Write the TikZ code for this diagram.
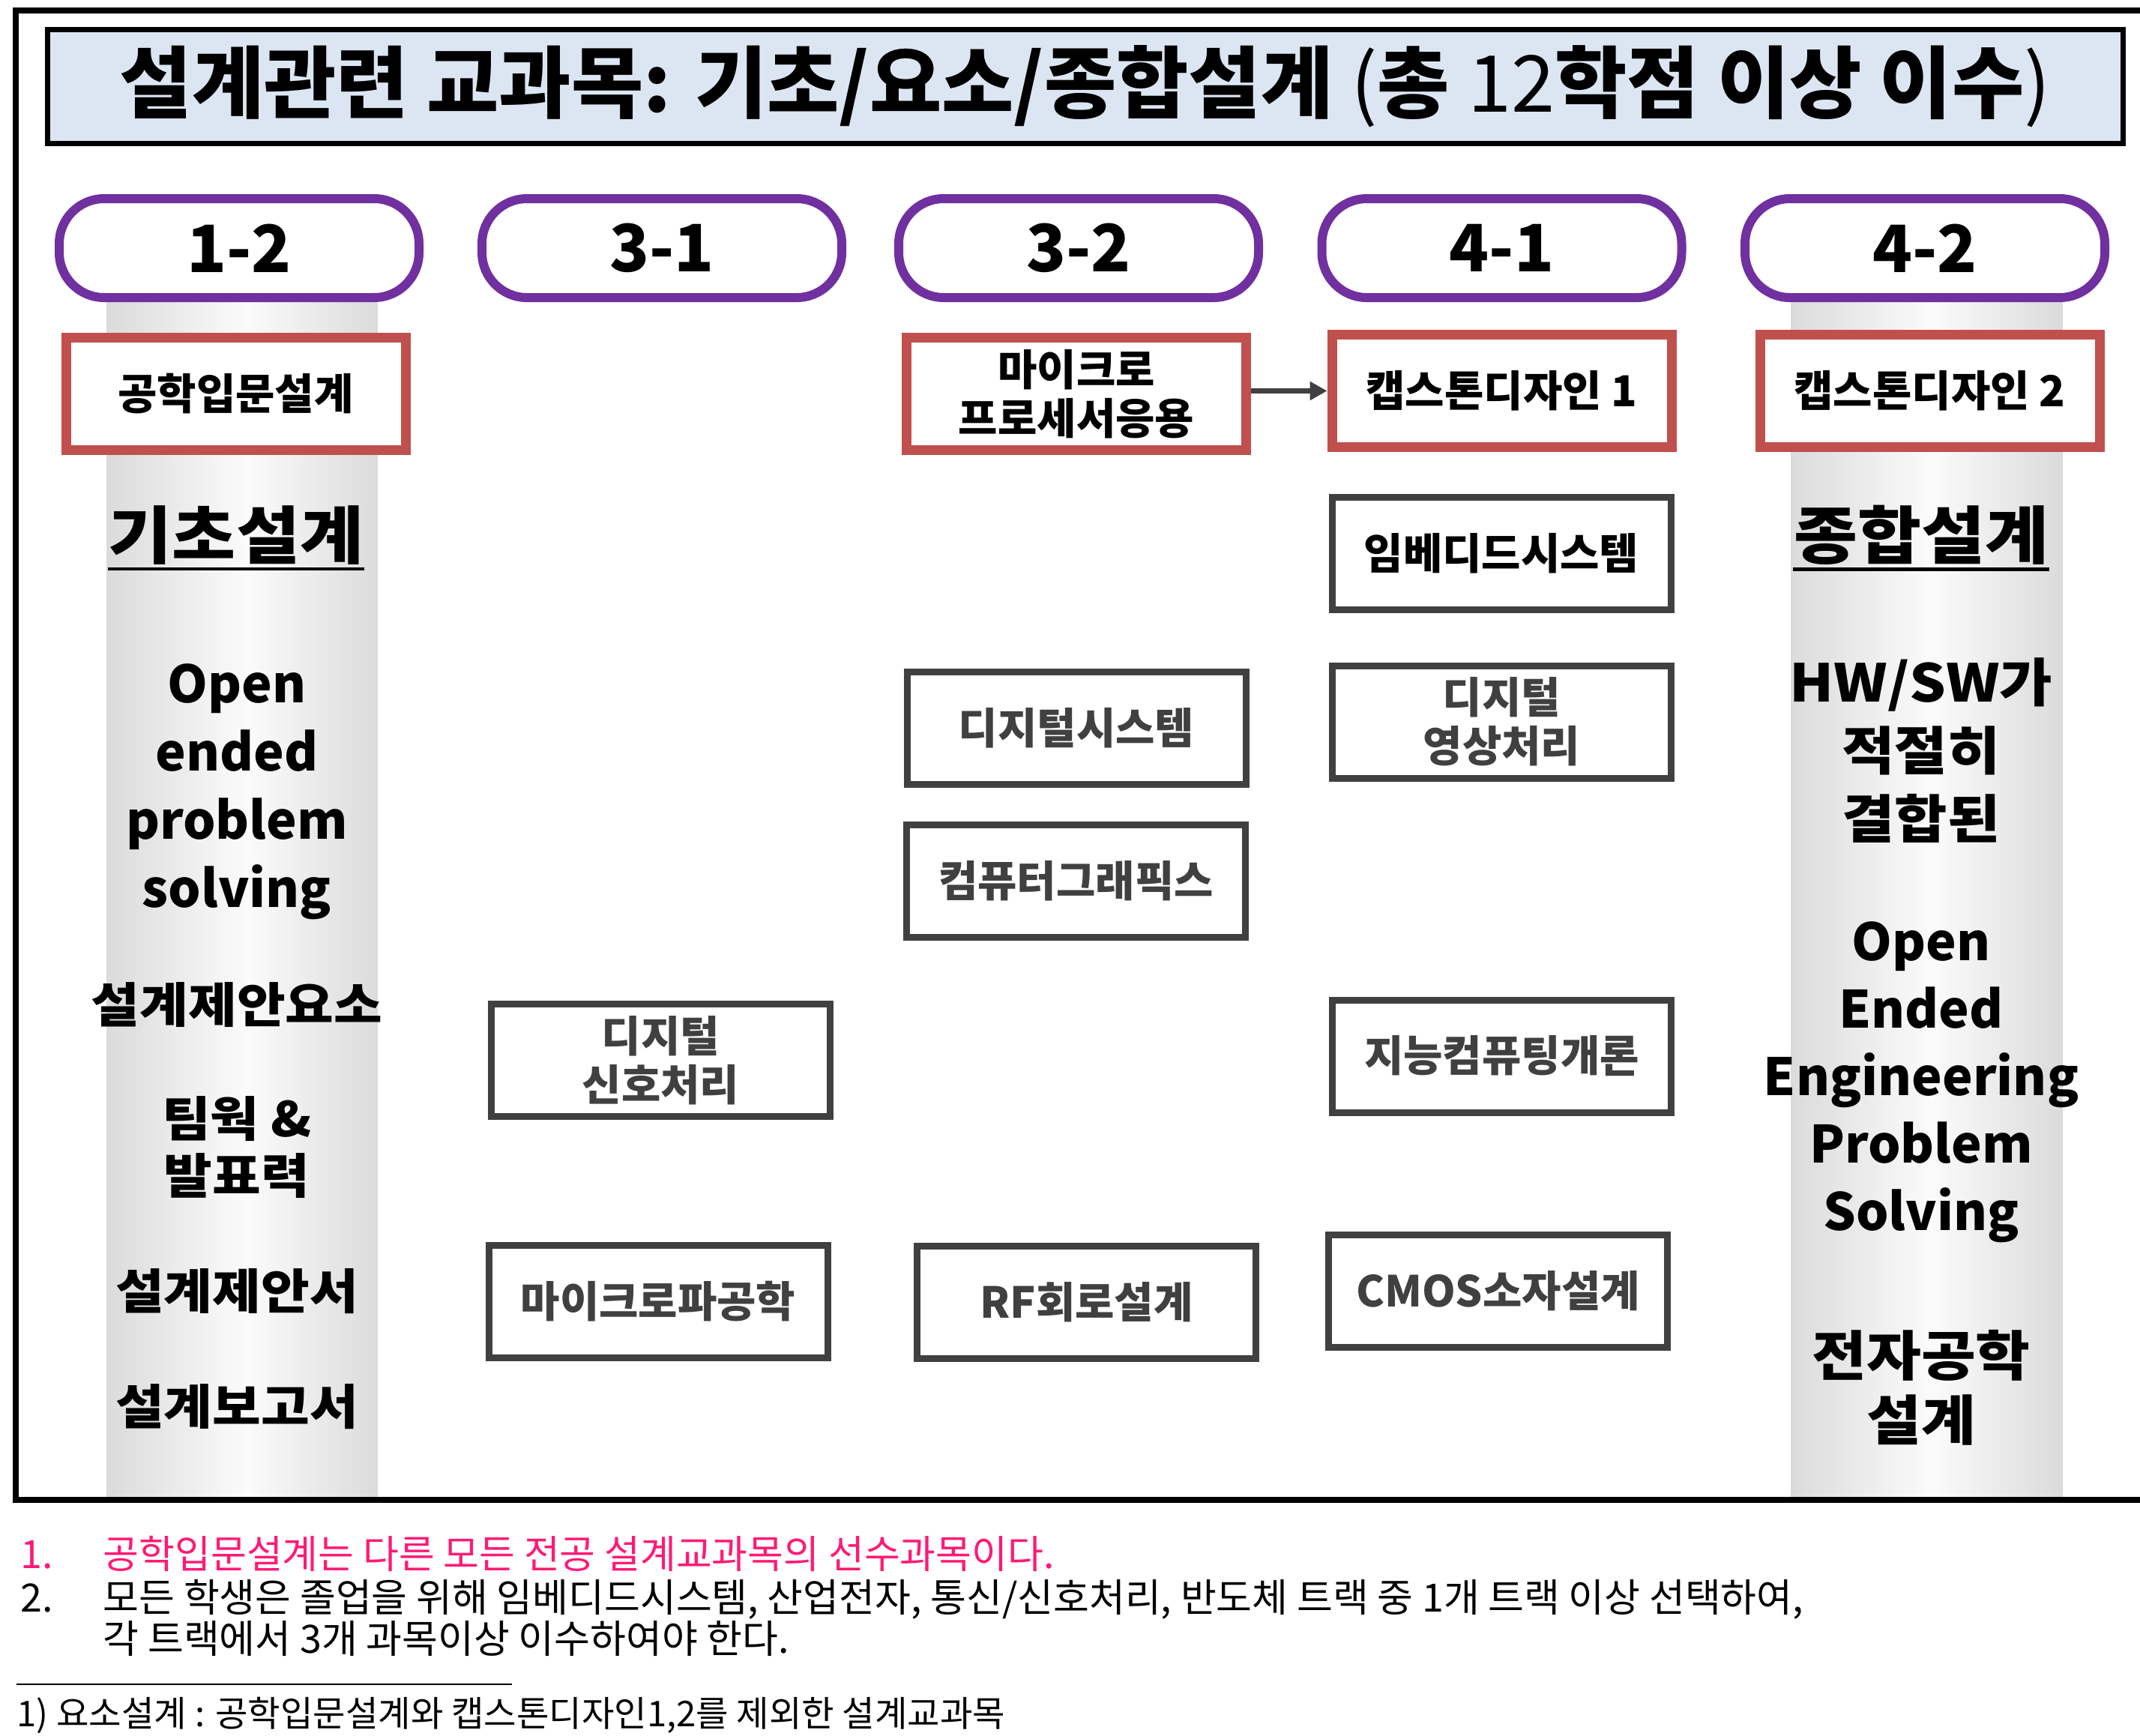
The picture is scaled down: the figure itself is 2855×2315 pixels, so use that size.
\documentclass[tikz,border=0pt]{standalone}
\usepackage{fontspec}
\setmainfont{Noto Sans CJK KR}
\newfontfamily\widekr[FakeStretch=1.1]{Noto Sans CJK KR}
\usetikzlibrary{arrows.meta}
\definecolor{redb}{HTML}{C0504D}
\definecolor{grayb}{HTML}{404040}
\definecolor{purp}{HTML}{7030A0}
\definecolor{titlebg}{HTML}{DCE6F2}
\definecolor{pinkt}{HTML}{FF1A75}
\definecolor{colg}{HTML}{DBDBDB}
\definecolor{colw}{HTML}{FBFBFB}
\pgfdeclarehorizontalshading{colshade}{100bp}{color(0bp)=(colg); color(25bp)=(colg); color(51bp)=(colw); color(75bp)=(colg); color(100bp)=(colg)}
\begin{document}
\begin{tikzpicture}[x=0.1mm,y=-0.1mm,
  pill/.style={draw=purp, line width=1.2mm, rounded corners=6mm, fill=white,
    minimum width=48mm, minimum height=13.2mm, inner sep=0pt,
    font=\fontsize{24.8}{28}\selectfont\bfseries},
  redbox/.style={draw=redb, line width=1.3mm, fill=white, align=center,
    minimum width=45.3mm, minimum height=15mm, inner sep=0pt,
    font=\fontsize{16.2}{18.6}\selectfont\bfseries},
  graybox/.style={draw=grayb, line width=0.9mm, fill=white, align=center, text=grayb,
    minimum width=45.2mm, minimum height=15mm, inner sep=0pt,
    font=\fontsize{16.2}{18.6}\selectfont\bfseries},
  colhead/.style={inner sep=0pt, font=\widekr\fontsize{23.9}{28}\selectfont\bfseries},
  coltext/.style={inner sep=0pt, align=center, font=\fontsize{19.5}{25.9}\selectfont\bfseries},
  colkor/.style={inner sep=0pt, align=center, font=\widekr\fontsize{18.2}{21.6}\selectfont\bfseries},
  foot/.style={inner sep=0pt, anchor=base west, font=\fontsize{14.8}{17}\selectfont},
  arr/.style={draw=grayb, line width=0.7mm, -{Triangle[length=2.3mm,width=2.4mm]}}
]
\useasboundingbox (0,0) rectangle (2855,2315);

% gray columns
\shade[shading=colshade] (142,380) rectangle (504,1998);
\shade[shading=colshade] (2389,380) rectangle (2752,1998);

% outer frame
\draw[line width=0.75mm, line join=miter] (2856,14) -- (21,14) -- (21,2001) -- (2856,2001);

% title
\node[draw, line width=0.7mm, fill=titlebg, minimum width=276.9mm, minimum height=15.2mm, inner sep=0pt,
  font=\fontsize{29.8}{32}\selectfont] (title) at (1448,115.5)
  {\bfseries 설계관련 교과목: 기초/요소/종합설계 \mdseries(\bfseries 총 \mdseries 12\bfseries 학점 이상 이수\mdseries)};

% semester pills
\node[pill] (s12) at (319,331) {1-2};
\node[pill] (s31) at (883,331) {3-1};
\node[pill] (s32) at (1439,331) {3-2};
\node[pill] (s41) at (2003.5,331) {4-1};
\node[pill] (s42) at (2568,331) {4-2};

% red boxes
\node[redbox] (intro) at (314.5,525.5) {공학입문설계};
\node[redbox] (micro) at (1436,525.5) {마이크로\\프로세서응용};
\node[redbox] (cap1) at (2003.5,521.5) {캡스톤디자인 1};
\node[redbox] (cap2) at (2574.5,521.5) {캡스톤디자인 2};

% gray boxes
\node[graybox, text=black] (embed) at (2003,738) {임베디드시스템};
\node[graybox] (dsys) at (1436,971) {디지털시스템};
\node[graybox] (dimg) at (2003.5,963) {디지털\\영상처리};
\node[graybox] (cg) at (1435.5,1175.5) {컴퓨터그래픽스};
\node[graybox] (dsp) at (881.5,1414.5) {디지털\\신호처리};
\node[graybox] (ai) at (2003.5,1409) {지능컴퓨팅개론};
\node[graybox] (mw) at (878,1736.5) {마이크로파공학};
\node[graybox] (rf) at (1449.5,1737) {RF회로설계};
\node[graybox] (cmos) at (1998.5,1722.5) {CMOS소자설계};

% arrow
\draw[arr] (micro.east |- cap1.west) -- (cap1.west);

% left column texts
\node[colhead] (kicho) at (315,714) {기초설계};
\draw[line width=0.45mm] ([yshift=-0.5mm]kicho.south west) -- ([yshift=-0.5mm]kicho.south east);
\node[coltext] (oeps) at (316,1056) {Open\\ended\\problem\\solving};
\node[colkor] (dce) at (316,1340) {설계제안요소};
\node[colkor] (team) at (316,1531) {팀웍 \&\\발표력};
\node[colkor] (prop) at (316,1723) {설계제안서};
\node[colkor] (rep) at (316,1877) {설계보고서};

% right column texts
\node[colhead] (jong) at (2563,714) {종합설계};
\draw[line width=0.45mm] ([yshift=-0.5mm]jong.south west) -- ([yshift=-0.5mm]jong.south east);
\node[coltext, font=\widekr\fontsize{19.8}{25.9}\selectfont\bfseries] (hwsw) at (2563,1001) {HW/SW가\\적절히\\결합된};
\node[coltext, font=\fontsize{19.5}{25.6}\selectfont\bfseries] (oeeps) at (2563,1444) {Open\\Ended\\Engineering\\Problem\\Solving};
\node[coltext, font=\widekr\fontsize{20.5}{24.5}\selectfont\bfseries] (eed) at (2563,1851) {전자공학\\설계};

% footer
\node[foot, text=pinkt] (n1) at (27,2092) {1.};
\node[foot, text=pinkt] (t1) at (137,2092) {공학입문설계는 다른 모든 전공 설계교과목의 선수과목이다.};
\node[foot] (n2) at (27,2150) {2.};
\node[foot] (t2) at (137,2150) {모든 학생은 졸업을 위해 임베디드시스템, 산업전자, 통신/신호처리, 반도체 트랙 중 1개 트랙 이상 선택하여,};
\node[foot] (t3) at (137,2205) {각 트랙에서 3개 과목이상 이수하여야 한다.};
\coordinate (sepa) at (22,2247);
\coordinate (sepb) at (683,2247);
\draw[line width=0.2mm] (sepa) -- (sepb);
\node[foot, font=\fontsize{13.45}{15}\selectfont] (fn) at (22,2303) {1) 요소설계 : 공학입문설계와 캡스톤디자인1,2를 제외한 설계교과목};
\end{tikzpicture}
\end{document}
